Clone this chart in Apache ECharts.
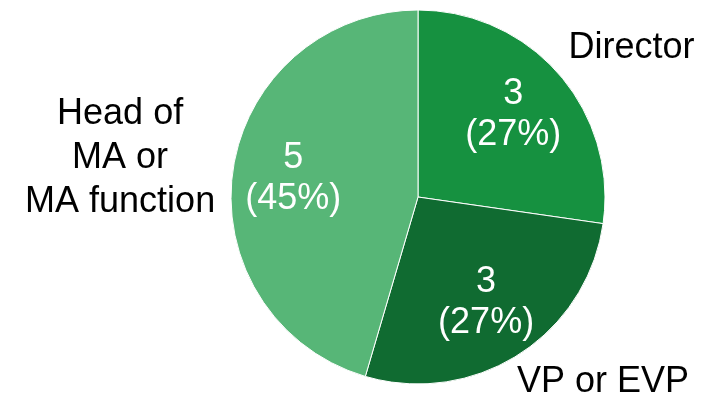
<!DOCTYPE html>
<html>
<head>
<meta charset="utf-8">
<script src="https://cdn.jsdelivr.net/npm/echarts@6/dist/echarts.min.js"></script>
<style>
html,body{margin:0;padding:0;background:#fff;}
#chart{width:705px;height:400px;}
</style>
</head>
<body>
<div id="chart"></div>
<script>
// Data
const categories = ['Director', 'VP or EVP', 'Head of\nMA or\nMA function'];
const values = [3, 3, 5];
const colors = ['#169140', '#106b31', '#57b677'];

// Label nudges (style only)
const outsideNudge = [[-11, -13], [-18, 11], [-88, -9]];
const outsideAlign = ['left', 'left', 'center'];

const FONT = 'Liberation Sans, Arial, Helvetica, sans-serif';
const data = categories.map((c, i) => ({ name: c, value: values[i], itemStyle: { color: colors[i] } }));

const chart = echarts.init(document.getElementById('chart'), null, { renderer: 'canvas' });
chart.setOption({
  animation: false,
  backgroundColor: '#ffffff',
  series: [
    {
      type: 'pie',
      center: [418, 197],
      radius: [0, 187],
      startAngle: 90,
      clockwise: true,
      avoidLabelOverlap: false,
      silent: true,
      itemStyle: { borderColor: '#ffffff', borderWidth: 1 },
      label: {
        show: true,
        position: 'outside',
        formatter: '{b}',
        color: '#000000',
        fontSize: 36,
        fontFamily: FONT,
        lineHeight: 44
      },
      labelLine: { show: false, length: 20, length2: 0 },
      labelLayout: function (p) {
        const i = p.dataIndex;
        return { dx: outsideNudge[i][0], dy: outsideNudge[i][1], align: outsideAlign[i] };
      },
      data: data
    },
    {
      type: 'pie',
      center: [418, 197],
      radius: [0, 246],
      startAngle: 90,
      clockwise: true,
      avoidLabelOverlap: false,
      silent: true,
      itemStyle: { color: 'rgba(0,0,0,0)', borderWidth: 0 },
      label: {
        show: true,
        position: 'inside',
        formatter: function (p) { return p.value + '\n(' + Math.round(p.percent) + '%)'; },
        color: '#ffffff',
        fontSize: 36,
        fontFamily: FONT,
        lineHeight: 41
      },
      labelLine: { show: false },
      data: categories.map((c, i) => ({ name: c, value: values[i], itemStyle: { color: 'rgba(0,0,0,0)' } }))
    }
  ]
});
</script>
</body>
</html>
